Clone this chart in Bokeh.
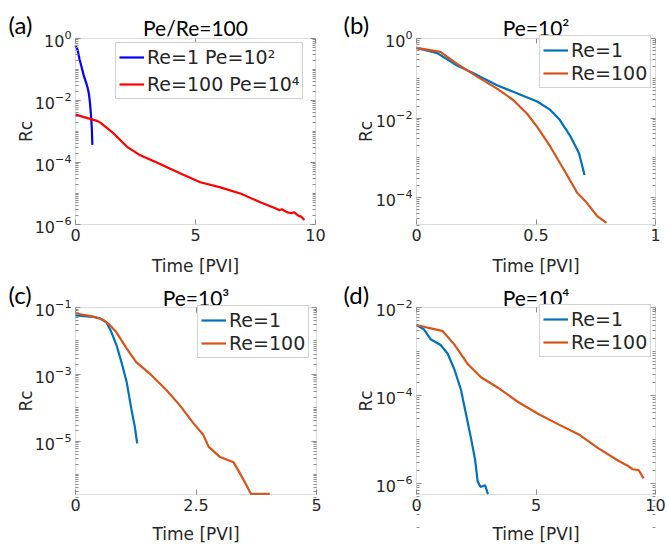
import math
from bokeh.plotting import figure
from bokeh.layouts import gridplot
from bokeh.models import (Range1d, FixedTicker, CustomJSTickFormatter, Label, BoxAnnotation,
                          LinearAxis, LogAxis)
from bokeh.embed import file_html
from bokeh.resources import INLINE

# ---------------- data ----------------
# Pe = 10^2, Re = 1  (also the blue curve of panel a)
b_re1_t = [0.0, 0.087, 0.17, 0.254, 0.337, 0.42, 0.505, 0.56, 0.60, 0.645, 0.68, 0.703]
b_re1_rc = [0.58, 0.43, 0.21, 0.12, 0.067, 0.042, 0.026, 0.016, 8.9e-3, 3.4e-3, 1.3e-3, 3.7e-4]
# Pe = 10^2, Re = 100
b_re100_t = [0.0, 0.1, 0.17, 0.254, 0.337, 0.406, 0.462, 0.505, 0.56, 0.617, 0.673, 0.707, 0.756, 0.795]
b_re100_rc = [0.58, 0.46, 0.23, 0.11, 0.055, 0.028, 0.013, 6.0e-3, 1.9e-3, 5.0e-4, 1.3e-4, 8.1e-5, 3.4e-5, 2.3e-5]

# Panel a : Re=100 Pe=10^4
a_red_t = [0.0, 0.5, 0.9, 1.05, 1.6, 2.15, 2.7, 3.5, 4.4, 5.2, 6.0, 6.9, 7.7, 8.3, 8.5, 8.6, 8.8, 9.0, 9.1,
           9.3, 9.4, 9.54]
a_red_rc = [3.5e-3, 2.7e-3, 2.2e-3, 1.9e-3, 8.5e-4, 3.2e-4, 1.7e-4, 9.1e-5, 4.3e-5, 2.3e-5, 1.6e-5, 9.8e-6,
            5.2e-6, 3.4e-6, 2.9e-6, 3.1e-6, 2.5e-6, 2.3e-6, 2.5e-6, 1.9e-6, 1.8e-6, 1.4e-6]

# Pe = 10^3
c_re1_t = [0.0, 0.36, 0.5, 0.64, 0.74, 0.85, 0.95, 1.06, 1.16, 1.23, 1.28]
c_re1_rc = [0.058, 0.052, 0.048, 0.036, 0.019, 7.5e-3, 2.4e-3, 6.0e-4, 9.0e-5, 2.7e-5, 8.5e-6]
c_re100_t = [0.0, 0.36, 0.57, 0.71, 0.85, 1.06, 1.26, 1.54, 1.89, 2.17, 2.44, 2.65, 2.76, 3.0, 3.28, 3.38,
             3.52, 3.64, 4.03]
c_re100_rc = [0.066, 0.054, 0.043, 0.030, 0.018, 6.0e-3, 2.3e-3, 1.05e-3, 3.3e-4, 1.15e-4, 3.5e-5, 1.55e-5,
              6.8e-6, 3.3e-6, 2.3e-6, 1.3e-6, 5.6e-7, 2.6e-7, 2.6e-7]

# Pe = 10^4
d_re1_t = [0.0, 0.31, 0.59, 1.01, 1.3, 1.58, 1.86, 2.07, 2.28, 2.45, 2.56, 2.68, 2.87, 2.99]
d_re1_rc = [4.0e-3, 3.2e-3, 1.9e-3, 1.4e-3, 9.0e-4, 4.0e-4, 1.35e-4, 3.8e-5, 1.07e-5, 3.5e-6, 1.1e-6,
            8.3e-7, 9.1e-7, 5.7e-7]
d_re100_t = [0.0, 0.45, 1.08, 1.58, 2.14, 2.7, 3.41, 4.25, 5.1, 5.94, 6.79, 7.63, 8.48, 8.8, 9.04, 9.3, 9.5]
d_re100_rc = [4.0e-3, 3.5e-3, 2.95e-3, 1.45e-3, 5.2e-4, 2.6e-4, 1.5e-4, 7.1e-5, 3.8e-5, 2.2e-5, 1.3e-5,
              6.2e-6, 3.2e-6, 2.6e-6, 2.1e-6, 2.0e-6, 1.3e-6]

titles = ["Pe/Re=100", "Pe=10\u00b2", "Pe=10\u00b3", "Pe=10\u2074"]
letters = ["(a)", "(b)", "(c)", "(d)"]
x_label = "Time [PVI]"
y_label = "Rc"

FONT = "DejaVu Sans"
TFONT = "Lato"
TXT = "#262626"
BOX = "#8c8c8c"
BLUE_M = "#0072BD"
ORANGE_M = "#D95319"


def minor_ticks(lo, hi, majors):
    out = []
    for e in range(lo, hi):
        for m in range(1, 10):
            v = m * 10.0 ** e
            if v not in majors:
                out.append(v)
    return out


def style_axis(ax):
    ax.axis_line_color = None
    ax.major_tick_line_color = BOX
    ax.minor_tick_line_color = BOX
    ax.major_tick_in = 5
    ax.major_tick_out = 0
    ax.minor_tick_in = 3
    ax.minor_tick_out = 0
    ax.major_label_text_font = FONT
    ax.major_label_text_font_size = "16px"
    ax.major_label_text_color = TXT
    ax.major_label_standoff = 4


def panel(W, H, box, xmax, ylim, xticks, yticks, dec, letter_x, title_base, letter_base, time_base,
          letter, title, series, legend_xy, legend_spacing):
    bx0, bx1, by0, by1 = box
    ylo, yhi = ylim
    llo, lhi = math.log10(ylo), math.log10(yhi)
    ppu = (bx1 - bx0) / xmax
    ppd = (by1 - by0) / (lhi - llo)
    xr = Range1d(-bx0 / ppu, xmax + (W - bx1) / ppu)
    yr = Range1d(10 ** (llo - (H - by1) / ppd), 10 ** (lhi + by0 / ppd))
    p = figure(width=W, height=H, x_range=xr, y_range=yr, y_axis_type="log",
               output_backend="svg", toolbar_location=None,
               min_border=0, min_border_left=0, min_border_right=0,
               min_border_top=0, min_border_bottom=0)
    p.outline_line_color = None
    p.xgrid.visible = False
    p.ygrid.visible = False

    yminor = minor_ticks(dec[0], dec[1], yticks)
    xa = p.xaxis[0]
    ya = p.yaxis[0]
    xa.fixed_location = ylo
    ya.fixed_location = 0
    style_axis(xa)
    style_axis(ya)
    xa.ticker = FixedTicker(ticks=xticks, minor_ticks=[])
    xa.formatter = CustomJSTickFormatter(code="return String(tick);")
    ya.ticker = FixedTicker(ticks=yticks, minor_ticks=yminor)

    top = LinearAxis(fixed_location=yhi, ticker=FixedTicker(ticks=xticks, minor_ticks=[]),
                     formatter=CustomJSTickFormatter(code="return '';"))
    style_axis(top)
    p.add_layout(top, "above")
    right = LogAxis(fixed_location=xmax, ticker=FixedTicker(ticks=yticks, minor_ticks=yminor),
                    formatter=CustomJSTickFormatter(code="return '';"))
    style_axis(right)
    p.add_layout(right, "right")

    p.add_layout(BoxAnnotation(left=0, right=xmax, bottom=ylo, top=yhi, fill_color=None, fill_alpha=0,
                               line_color=BOX, line_width=1))

    for t, rc, col, lab in series:
        p.line(t, rc, line_color=col, line_width=2.2, legend_label=lab)

    lg = p.legend[0]
    lg.location = legend_xy
    lg.padding = 3
    lg.spacing = legend_spacing
    lg.margin = 0
    lg.label_text_font = FONT
    lg.label_text_font_size = "19px"
    lg.label_text_color = TXT
    lg.glyph_width = 25
    lg.glyph_height = 20
    lg.label_standoff = 3
    lg.label_height = 20
    lg.border_line_color = "#a6a6a6"
    lg.border_line_width = 1
    lg.background_fill_color = "white"
    lg.background_fill_alpha = 1.0

    cx = (bx0 + bx1) / 2
    p.add_layout(Label(x=cx, y=H - title_base, x_units="screen", y_units="screen", text=title,
                       text_font=TFONT, text_font_size="21px", text_color="black",
                       text_align="center", text_baseline="alphabetic"))
    p.add_layout(Label(x=letter_x, y=H - letter_base, x_units="screen", y_units="screen", text=letter,
                       text_font=TFONT, text_font_size="24px", text_color="black",
                       text_align="left", text_baseline="alphabetic"))
    p.add_layout(Label(x=25, y=H - (by0 + by1) / 2, x_units="screen", y_units="screen", text=y_label,
                       text_font=FONT, text_font_size="17px", text_color=TXT, angle=math.pi / 2,
                       text_align="center", text_baseline="middle"))
    p.add_layout(Label(x=cx, y=H - time_base, x_units="screen", y_units="screen", text=x_label,
                       text_font=FONT, text_font_size="17px", text_color=TXT,
                       text_align="center", text_baseline="alphabetic"))
    return p


H1, H2 = 275, 269

pa = panel(340, H1, (75, 315, 38, 224), 10, (1e-6, 1.0), [0, 5, 10], [1e-6, 1e-4, 1e-2, 1.0], (-6, 0),
           8, 27, 24, 265, letters[0], titles[0],
           [(b_re1_t, b_re1_rc, "#0000FF", "Re=1 Pe=10\u00b2"),
            (a_red_t, a_red_rc, "#FF0000", "Re=100 Pe=10\u2074")],
           (115, H1 - 99), 5)
pb = panel(326, H1, (76, 315, 38, 224), 1, (2.1e-5, 1.0), [0, 0.5, 1], [1e-4, 1e-2, 1.0], (-5, 0),
           3, 27, 24, 265, letters[1], titles[1],
           [(b_re1_t, b_re1_rc, BLUE_M, "Re=1"),
            (b_re100_t, b_re100_rc, ORANGE_M, "Re=100")],
           (199, H1 - 88), 1)
pc = panel(340, H2, (75, 316, 32, 219), 5, (2.5e-7, 0.1), [0, 2.5, 5], [1e-5, 1e-3, 1e-1], (-7, -1),
           8, 22, 19, 258, letters[2], titles[2],
           [(c_re1_t, c_re1_rc, BLUE_M, "Re=1"),
            (c_re100_t, c_re100_rc, ORANGE_M, "Re=100")],
           (197, H2 - 83), 1)
pd_ = panel(326, H2, (76, 315, 32, 219), 10, (5.6e-7, 1e-2), [0, 5, 10], [1e-6, 1e-4, 1e-2], (-7, -2),
            3, 22, 19, 258, letters[3], titles[3],
            [(d_re1_t, d_re1_rc, BLUE_M, "Re=1"),
             (d_re100_t, d_re100_rc, ORANGE_M, "Re=100")],
            (199, H2 - 82), 1)

grid = gridplot([[pa, pb], [pc, pd_]], toolbar_location=None)
open("out.html", "w").write(file_html(grid, INLINE))
